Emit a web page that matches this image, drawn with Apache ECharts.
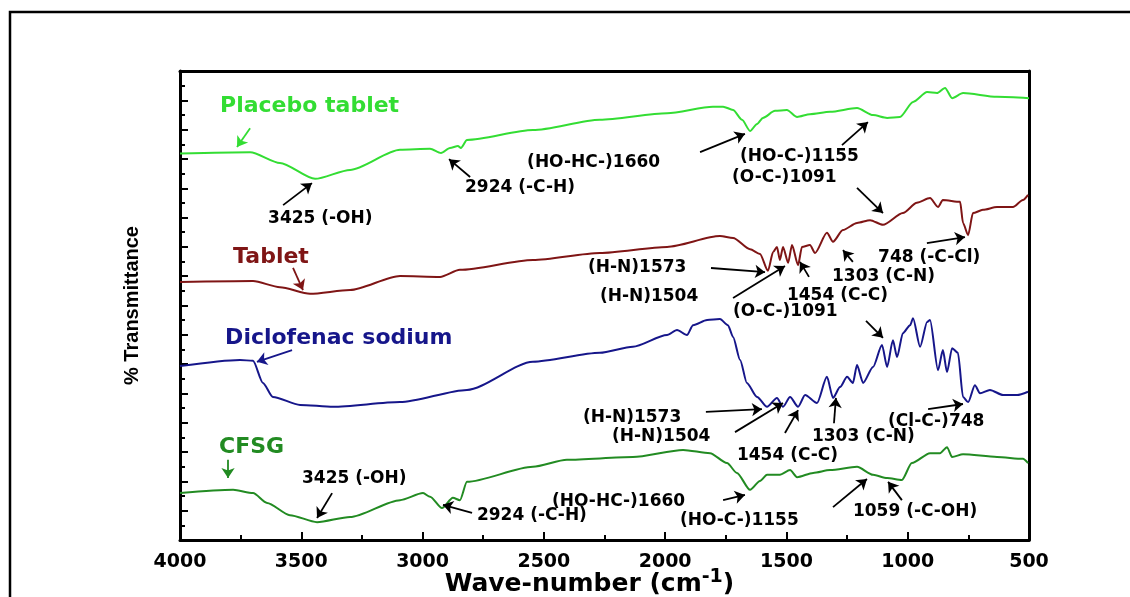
<!DOCTYPE html>
<html>
<head>
<meta charset="utf-8">
<script src="https://cdn.jsdelivr.net/npm/echarts@6/dist/echarts.min.js"></script>
<style>
html,body{margin:0;padding:0;background:#fff;overflow:hidden;}
#chart{width:1130px;height:597px;}
</style>
</head>
<body>
<div id="chart"></div>
<script>
// ---- x tick values (wave-number, cm-1) ----
const xTicks = [4000, 3500, 3000, 2500, 2000, 1500, 1000, 500];

// ---- Placebo tablet ----
const placeboWn = [4000,3711,3588,3443,3299,3093,2969,2924,2887,2854,2842,2817,2545,2269,1992,1803,1761,1720,1683,1650,1621,1597,1547,1498,1456,1403,1320,1209,1143,1085,1032,978,920,879,846,817,772,632,500];
const placeboT  = [82.4,82.7,80.4,77.0,78.9,83.2,83.4,82.5,83.6,84.0,83.6,85.3,87.4,89.6,91.0,92.4,92.4,91.7,89.6,87.2,88.7,90.0,91.5,91.7,90.2,90.8,91.3,92.1,90.6,90.0,90.2,93.4,95.5,95.3,96.4,94.2,95.3,94.5,94.2];

// ---- Tablet ----
const tabletWn = [4000,3699,3588,3464,3299,3093,2928,2846,2545,2269,1992,1774,1720,1650,1609,1576,1555,1539,1527,1514,1493,1477,1452,1436,1403,1382,1333,1308,1267,1209,1155,1102,1020,962,908,875,855,784,772,751,731,690,632,566,525,504];
const tabletT  = [55.0,55.2,53.9,52.5,53.3,56.3,56.1,57.6,59.7,61.2,62.5,64.8,64.4,62.0,61.0,57.4,61.4,62.5,59.7,62.5,59.1,62.9,58.6,62.5,62.9,61.2,65.5,63.6,66.1,67.6,68.2,67.2,69.7,71.9,72.9,71.0,72.5,72.1,67.6,65.0,69.7,70.4,71.0,71.0,72.5,73.6];

// ---- Diclofenac sodium ----
const diclofenacWn = [4000,3753,3699,3658,3617,3505,3369,3093,2817,2545,2269,2133,1992,1951,1910,1885,1827,1774,1741,1720,1691,1663,1621,1580,1539,1514,1485,1452,1423,1374,1333,1308,1279,1250,1226,1209,1184,1143,1106,1085,1061,1044,1020,990,978,949,920,908,875,855,838,817,793,772,751,723,702,661,607,549,504];
const diclofenacT  = [37.1,38.4,38.2,33.5,30.5,28.8,28.4,29.4,32.0,38.0,39.9,41.2,43.7,44.8,43.7,45.8,46.9,47.1,45.8,43.3,38.4,33.5,30.5,28.4,30.3,28.4,30.5,28.4,30.9,29.2,34.8,30.3,32.6,34.8,33.5,37.3,33.5,36.9,41.6,36.9,42.6,39.0,44.1,45.8,47.3,41.2,46.5,46.9,36.2,40.5,35.8,40.9,39.9,30.5,29.4,33.0,31.3,32.0,30.9,30.9,31.6];

// ---- CFSG ----
const cfsgWn = [4000,3781,3699,3641,3547,3435,3299,3093,2998,2969,2920,2875,2846,2817,2545,2405,2133,1926,1815,1745,1704,1650,1609,1580,1527,1485,1456,1390,1320,1209,1143,1085,1024,983,908,867,838,817,772,632,525,504];
const cfsgT  = [10.0,10.7,10.0,7.9,5.3,3.8,4.9,8.5,10.0,9.2,6.8,9.0,8.5,12.4,15.6,17.1,17.7,19.2,18.5,16.4,14.3,10.7,12.6,13.9,13.9,14.9,13.4,14.3,14.9,15.6,13.9,13.2,12.8,16.4,18.5,18.5,19.8,17.7,18.3,17.7,17.3,16.4];

// ---- series names ----
const seriesNames = ['Placebo tablet', 'Tablet', 'Diclofenac sodium', 'CFSG'];
const seriesColors = ['#33dd33', '#7f1515', '#16168a', '#228b22'];

// ---- text annotations: [text, wave-number of left edge, transmittance of centre, colour index (-1 = black)] ----
const annotations = [
  ['Placebo tablet', 3835, 92.5, 0],
  ['3425 (-OH)', 3637, 68.5, -1],
  ['2924 (-C-H)', 2825, 75.1, -1],
  ['(HO-HC-)1660', 2569, 80.4, -1],
  ['(HO-C-)1155', 1691, 81.7, -1],
  ['(O-C-)1091', 1724, 77.2, -1],
  ['Tablet', 3781, 60.3, 1],
  ['(H-N)1573', 2318, 58.0, -1],
  ['(H-N)1504', 2269, 51.8, -1],
  ['1454 (C-C)', 1498, 52.2, -1],
  ['1303 (C-N)', 1312, 56.1, -1],
  ['748 (-C-Cl)', 1122, 60.3, -1],
  ['Diclofenac sodium', 3814, 43.1, 2],
  ['(O-C-)1091', 1720, 48.6, -1],
  ['(H-N)1573', 2339, 26.0, -1],
  ['(H-N)1504', 2219, 22.0, -1],
  ['1454 (C-C)', 1704, 18.1, -1],
  ['1303 (C-N)', 1395, 22.0, -1],
  ['(Cl-C-)748', 1081, 25.2, -1],
  ['CFSG', 3839, 19.8, 3],
  ['3425 (-OH)', 3497, 13.0, -1],
  ['2924 (-C-H)', 2776, 5.3, -1],
  ['(HO-HC-)1660', 2466, 8.1, -1],
  ['(HO-C-)1155', 1939, 4.1, -1],
  ['1059 (-C-OH)', 1226, 6.0, -1]
];

// ---- arrows: [from wn, from T, to wn, to T, colour index (-1 = black)] ----
const arrows = [
  [3711, 87.8, 3765, 83.8, 0],
  [3575, 71.4, 3456, 76.1, -1],
  [2804, 77.4, 2891, 81.2, -1],
  [1856, 82.7, 1671, 86.6, -1],
  [1271, 84.2, 1164, 89.1, -1],
  [1209, 75.1, 1102, 69.7, -1],
  [3534, 58.0, 3493, 53.3, 1],
  [1811, 58.0, 1588, 57.1, -1],
  [1720, 51.6, 1506, 58.4, -1],
  [1407, 56.1, 1444, 59.3, -1],
  [1226, 59.3, 1267, 61.8, -1],
  [921, 63.3, 764, 64.6, -1],
  [3538, 40.5, 3683, 38.0, 2],
  [1172, 46.7, 1102, 43.1, -1],
  [1832, 27.3, 1601, 27.9, -1],
  [1712, 23.0, 1514, 29.2, -1],
  [1506, 22.8, 1452, 27.7, -1],
  [1304, 24.9, 1296, 30.3, -1],
  [916, 27.9, 772, 29.0, -1],
  [3802, 17.1, 3802, 13.2, 3],
  [3373, 10.0, 3435, 4.7, -1],
  [2796, 5.8, 2916, 7.5, -1],
  [1761, 8.5, 1671, 9.6, -1],
  [1308, 7.0, 1168, 13.0, -1],
  [1024, 8.5, 1081, 12.4, -1]
];

const curves = [
  [placeboWn, placeboT],
  [tabletWn, tabletT],
  [diclofenacWn, diclofenacT],
  [cfsgWn, cfsgT]
];

function colorOf(i) { return i < 0 ? '#000' : seriesColors[i]; }
const FONT = 'DejaVu Sans';

const chart = echarts.init(document.getElementById('chart'), null, {renderer: 'canvas'});

const series = curves.map((c, i) => ({
  name: seriesNames[i],
  type: 'line',
  data: c[0].map((w, k) => [w, c[1][k]]),
  showSymbol: false,
  symbol: 'none',
  smooth: 0.25,
  smoothMonotone: 'x',
  lineStyle: {color: seriesColors[i], width: 2},
  z: 3
}));

series.push({
  type: 'lines',
  coordinateSystem: 'cartesian2d',
  silent: true,
  symbol: ['none', 'arrow'],
  symbolSize: 10,
  data: arrows.map(a => ({
    coords: [[a[0], a[1]], [a[2], a[3]]],
    lineStyle: {color: colorOf(a[4])},
    itemStyle: {color: colorOf(a[4])}
  })),
  lineStyle: {width: 1.8, opacity: 1, curveness: 0},
  z: 4
});

series.push({
  type: 'scatter',
  silent: true,
  symbolSize: 0,
  itemStyle: {opacity: 1},
  data: annotations.map(a => ({
    value: [a[1], a[2]],
    label: {
      show: true,
      formatter: a[0],
      position: [0, 0],
      align: 'left',
      verticalAlign: 'middle',
      color: colorOf(a[3]),
      opacity: 1,
      fontFamily: FONT,
      fontWeight: 'bold',
      fontSize: a[3] < 0 ? 17 : 22
    }
  })),
  z: 5
});

const option = {
  animation: false,
  backgroundColor: '#fff',
  grid: {left: 180, top: 71, right: 101, bottom: 57, containLabel: false, outerBoundsMode: 'none'},
  xAxis: [{
    type: 'value',
    inverse: true,
    min: 500,
    max: 4000,
    interval: 500,
    name: '{a|Wave-number (cm}{s|-1}{a|)}',
    nameLocation: 'middle',
    nameMoveOverlap: false,
    nameGap: 29,
    nameTextStyle: {
      padding: [0, 30, 0, 0],
      rich: {
        a: {fontFamily: FONT, fontWeight: 'bold', fontSize: 25, lineHeight: 28, color: '#000', verticalAlign: 'bottom'},
        s: {fontFamily: FONT, fontWeight: 'bold', fontSize: 19, lineHeight: 20, color: '#000', verticalAlign: 'bottom', padding: [0, 0, 10, 0]}
      }
    },
    axisLine: {show: true, lineStyle: {color: '#000', width: 3}},
    axisTick: {show: true, inside: true, length: 8, lineStyle: {color: '#000', width: 2}},
    minorTick: {show: true, splitNumber: 2, length: 5, lineStyle: {color: '#000', width: 2}},
    axisLabel: {show: true, margin: 13, color: '#000', fontFamily: FONT, fontWeight: 'bold', fontSize: 19,
      formatter: v => String(v)},
    splitLine: {show: false}
  }, {
    type: 'value',
    position: 'top',
    min: 500, max: 4000,
    axisLine: {show: true, onZero: false, lineStyle: {color: '#000', width: 3}},
    axisTick: {show: false}, axisLabel: {show: false}, splitLine: {show: false}
  }],
  yAxis: [{
    type: 'value',
    min: 0,
    max: 100,
    interval: 6.25,
    name: '% Transmittance',
    nameLocation: 'middle',
    nameMoveOverlap: false,
    nameRotate: 90,
    nameGap: 38,
    nameTextStyle: {fontFamily: 'Liberation Sans', fontWeight: 'bold', fontSize: 20, color: '#000'},
    axisLine: {show: true, lineStyle: {color: '#000', width: 3}},
    axisTick: {show: true, inside: true, length: 8, lineStyle: {color: '#000', width: 2}},
    minorTick: {show: true, splitNumber: 2, length: 5, lineStyle: {color: '#000', width: 2}},
    axisLabel: {show: false},
    splitLine: {show: false}
  }, {
    type: 'value',
    position: 'right',
    min: 0, max: 100,
    axisLine: {show: true, onZero: false, lineStyle: {color: '#000', width: 3}},
    axisTick: {show: false}, axisLabel: {show: false}, splitLine: {show: false}
  }],
  graphic: [{
    type: 'rect',
    silent: true,
    shape: {x: 10, y: 12, width: 1200, height: 700},
    style: {fill: 'none', stroke: '#000', lineWidth: 2.5},
    z: 100
  }],
  series: series
};

chart.setOption(option);
</script>
</body>
</html>
